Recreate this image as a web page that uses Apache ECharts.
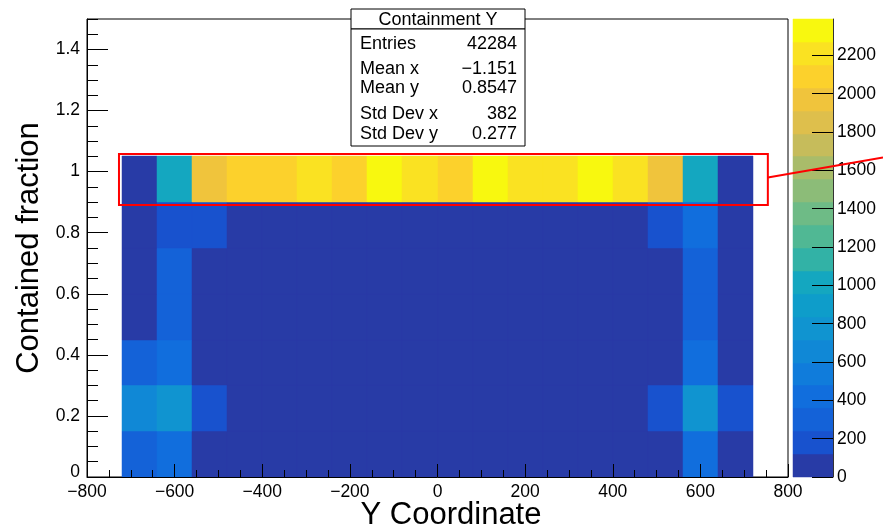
<!DOCTYPE html>
<html>
<head>
<meta charset="utf-8">
<script src="https://cdn.jsdelivr.net/npm/echarts@6/dist/echarts.min.js"></script>
<style>
  html, body { margin: 0; padding: 0; background: #fff; }
  #chart { width: 883px; height: 529px; }
</style>
</head>
<body>
<div id="chart"></div>
<script>
var FONT = '"Liberation Sans", Arial, Helvetica, sans-serif';

// bin edges of the 2D histogram
var xEdges = [-720, -640, -560, -480, -400, -320, -240, -160, -80, 0, 80, 160, 240, 320, 400, 480, 560, 640, 720];
var yEdges = [0, 0.15, 0.3, 0.45, 0.6, 0.75, 0.9, 1.05];

// counts[j][i] : y bin j (from the bottom), x bin i (from the left)
var counts = [
  [300, 420, 40, 22, 18, 25, 16, 20, 14, 19, 23, 17, 21, 15, 24, 35, 410, 90],
  [660, 780, 180, 26, 20, 17, 23, 15, 21, 18, 16, 22, 19, 25, 20, 175, 760, 190],
  [290, 400, 30, 19, 24, 16, 18, 22, 15, 20, 17, 21, 14, 23, 18, 28, 405, 95],
  [105, 300, 25, 21, 15, 20, 17, 23, 19, 16, 22, 18, 20, 15, 21, 25, 295, 100],
  [100, 305, 30, 17, 22, 19, 24, 16, 20, 23, 15, 19, 22, 18, 16, 30, 300, 98],
  [95, 205, 175, 20, 16, 23, 18, 21, 17, 15, 20, 24, 16, 21, 19, 180, 370, 92],
  [80, 990, 1970, 2100, 2100, 2220, 2090, 2350, 2230, 2110, 2370, 2240, 2210, 2340, 2200, 1960, 1000, 90]
];

var zMax = 2390;
var zTicks = [0, 200, 400, 600, 800, 1000, 1200, 1400, 1600, 1800, 2000, 2200];
var yLabelTicks = [0, 0.2, 0.4, 0.6, 0.8, 1, 1.2, 1.4];

// palette bands, bottom to top (20 contour levels)
var bandColors = [
  '#283ba6', '#1852ce', '#1462d8', '#116edd', '#107cdb',
  '#1088d6', '#1094d0', '#0e9dca', '#14a7c0', '#32b2a6',
  '#50b894', '#6ebb86', '#8cbc78', '#a9bc6a', '#c6bc5b',
  '#debf4c', '#f0c43c', '#fcd12c', '#fae222', '#f8f80f'
];

var statTitle = 'Containment Y';
var statNames = ['Entries', 'Mean x', 'Mean y', 'Std Dev x', 'Std Dev y'];
var statValues = ['42284', '\u22121.151', '0.8547', '382', '0.277'];

// highlighted region (data units)
var boxX = [-727, 754];
var boxY = [0.891, 1.058];

var cells = [];
counts.forEach(function (row, j) {
  row.forEach(function (c, i) {
    cells.push([xEdges[i], yEdges[j], c, xEdges[i + 1], yEdges[j + 1]]);
  });
});

var bandW = zMax / bandColors.length;
var pieces = bandColors.map(function (c, k) {
  var p = { gte: k * bandW, color: c };
  if (k === bandColors.length - 1) p.lte = zMax; else p.lt = (k + 1) * bandW;
  return p;
});
var bands = bandColors.map(function (c, k) {
  return [0, k * bandW, (k + 1) * bandW, (k + 0.5) * bandW];
});

function rectBetween(p0, p1, color) {
  var x0 = Math.round(Math.min(p0[0], p1[0])), x1 = Math.round(Math.max(p0[0], p1[0]));
  var y0 = Math.round(Math.min(p0[1], p1[1])), y1 = Math.round(Math.max(p0[1], p1[1]));
  return {
    type: 'rect',
    shape: { x: x0, y: y0, width: x1 - x0, height: y1 - y0 },
    style: { fill: color, stroke: color, lineWidth: 0.5 }
  };
}

function renderCell(params, api) {
  var p0 = api.coord([api.value(0), api.value(1)]);
  var p1 = api.coord([api.value(3), api.value(4)]);
  return rectBetween(p0, p1, api.visual('color'));
}

function renderBand(params, api) {
  var p0 = api.coord([0, api.value(1)]);
  var p1 = api.coord([1, api.value(2)]);
  return rectBetween(p0, p1, api.visual('color'));
}

var black = { color: '#000', width: 1 };
var labelStyle = { color: '#000', fontFamily: FONT, fontSize: 17.5 };

var chart = echarts.init(document.getElementById('chart'));

var option = {
  animation: false,
  backgroundColor: '#fff',
  grid: [
    { left: 87, right: 95, top: 19, bottom: 52, outerBoundsMode: 'none', show: true, borderColor: '#000', borderWidth: 1, backgroundColor: 'transparent' },
    { left: 793, width: 40, top: 19, bottom: 52, outerBoundsMode: 'none' }
  ],
  xAxis: [
    {
      type: 'value', gridIndex: 0, min: -800, max: 800, interval: 200, z: 5,
      axisLine: { onZero: false, lineStyle: black },
      axisTick: { inside: true, length: 13, lineStyle: black },
      minorTick: { show: true, splitNumber: 4, length: 7, lineStyle: black },
      splitLine: { show: false },
      axisLabel: Object.assign({ margin: 6, formatter: function (v) { return String(v).replace('-', '\u2212'); } }, labelStyle),
      name: 'Y Coordinate', nameLocation: 'middle', nameGap: 23, nameMoveOverlap: false,
      nameTextStyle: { color: '#000', fontFamily: FONT, fontSize: 31, padding: [0, 0, 0, 27] }
    },
    { type: 'value', gridIndex: 1, min: 0, max: 1, show: false }
  ],
  yAxis: [
    {
      type: 'value', gridIndex: 0, min: 0, max: 1.5, interval: 0.05, z: 5,
      axisLine: { show: true, onZero: false, lineStyle: black },
      axisTick: { inside: true, length: 11, lineStyle: black },
      splitLine: { show: false },
      axisLabel: Object.assign({
        margin: 7,
        customValues: yLabelTicks,
        formatter: function (v) { return v === 0 ? '{z|0}' : String(v); },
        rich: { z: { padding: [0, 0, 9, 0], fontFamily: FONT, fontSize: 17.5, color: '#000' } }
      }, labelStyle),
      name: 'Contained fraction', nameLocation: 'middle', nameGap: 42, nameMoveOverlap: false,
      nameTextStyle: { color: '#000', fontFamily: FONT, fontSize: 31 }
    },
    {
      type: 'value', gridIndex: 0, min: 0, max: 1.5, position: 'left', z: 5,
      axisLine: { show: false, onZero: false },
      axisTick: { show: true, inside: true, length: 21, customValues: yLabelTicks, lineStyle: black },
      axisLabel: { show: false },
      splitLine: { show: false }
    },
    {
      type: 'value', gridIndex: 1, min: 0, max: zMax, position: 'right', z: 5,
      axisLine: { show: true, onZero: false, lineStyle: { color: '#333', width: 1 } },
      axisTick: { show: true, inside: true, length: 21, customValues: zTicks, lineStyle: black },
      axisLabel: Object.assign({ margin: 4, customValues: zTicks, formatter: function (v) { return String(v); } }, labelStyle),
      splitLine: { show: false }
    }
  ],
  visualMap: [
    { type: 'piecewise', show: false, seriesIndex: 0, dimension: 2, pieces: pieces },
    { type: 'piecewise', show: false, seriesIndex: 1, dimension: 3, pieces: pieces }
  ],
  series: [
    {
      type: 'custom', xAxisIndex: 0, yAxisIndex: 0,
      renderItem: renderCell, data: cells,
      encode: { x: [0, 3], y: [1, 4] }, z: 1
    },
    {
      type: 'custom', xAxisIndex: 1, yAxisIndex: 2,
      renderItem: renderBand, data: bands,
      encode: { x: 0, y: [1, 2] }, z: 1
    }
  ]
};

chart.setOption(option);

// annotation box + pointer line, and the statistics box
var pA = chart.convertToPixel({ gridIndex: 0 }, [boxX[0], boxY[1]]);
var pB = chart.convertToPixel({ gridIndex: 0 }, [boxX[1], boxY[0]]);
var midY = (pA[1] + pB[1]) / 2 - 2;

var statRowsY = [44, 69, 88, 114, 134];
var statChildren = [
  { type: 'rect', shape: { x: 351, y: 9, width: 174, height: 20 }, style: { fill: '#fff', stroke: '#000', lineWidth: 1 } },
  { type: 'rect', shape: { x: 351, y: 29, width: 174, height: 117 }, style: { fill: '#fff', stroke: '#000', lineWidth: 1 } },
  { type: 'text', x: 438, y: 20, style: { text: statTitle, fill: '#000', font: '18px ' + FONT, textAlign: 'center', textVerticalAlign: 'middle' } }
];
statNames.forEach(function (n, k) {
  statChildren.push({ type: 'text', x: 360, y: statRowsY[k], style: { text: n, fill: '#000', font: '18px ' + FONT, textAlign: 'left', textVerticalAlign: 'middle' } });
  statChildren.push({ type: 'text', x: 517, y: statRowsY[k], style: { text: statValues[k], fill: '#000', font: '18px ' + FONT, textAlign: 'right', textVerticalAlign: 'middle' } });
});

chart.setOption({
  graphic: [
    {
      type: 'rect', z: 50,
      shape: { x: pA[0], y: pA[1], width: pB[0] - pA[0], height: pB[1] - pA[1] },
      style: { fill: 'transparent', stroke: '#ff0000', lineWidth: 2 }
    },
    {
      type: 'line', z: 50,
      shape: { x1: pB[0], y1: midY, x2: chart.getWidth(), y2: midY - 20 },
      style: { stroke: '#ff0000', lineWidth: 2 }
    },
    { type: 'group', z: 60, children: statChildren }
  ]
});
</script>
</body>
</html>
